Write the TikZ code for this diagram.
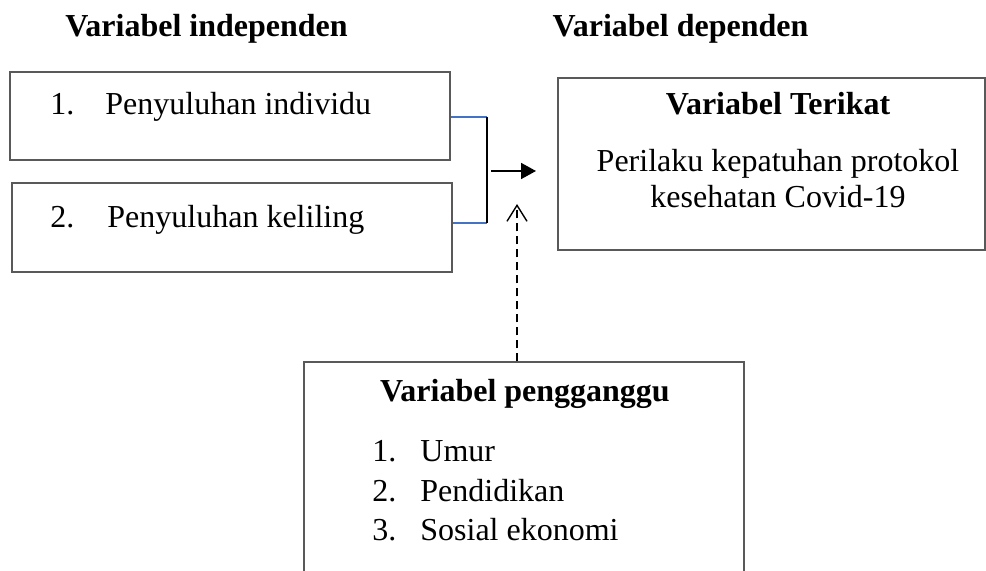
\documentclass[tikz,border=0pt]{standalone}
\usepackage{fontspec}
\setmainfont{Liberation Serif}
\usetikzlibrary{arrows.meta}
\definecolor{joinblue}{RGB}{68,114,196}

\begin{document}
\begin{tikzpicture}
  [x=0.5pt,y=-0.5pt,
   every node/.style={inner sep=0pt,font=\fontsize{16}{19.75}\selectfont},
   box/.style={draw=black!65,line width=0.7pt,rectangle},
   lbl/.style={anchor=base west},
   txt/.style={anchor=base},
   head/.style={anchor=base,font=\fontsize{16}{19.75}\selectfont\bfseries}]
  \useasboundingbox (0,0) rectangle (986,571);

  % headings
  \node[head] (hi) at (206.5,37) {Variabel independen};
  \node[head] (hd) at (680.5,37) {Variabel dependen};

  % boxes
  \node[box,minimum width=220pt,minimum height=44pt] (b1) at (230,116) {};
  \node[box,minimum width=220pt,minimum height=44.5pt] (b2) at (232,227.5) {};
  \node[box,minimum width=213.5pt,minimum height=86pt] (br) at (771.5,164) {};
  \node[box,minimum width=220pt,minimum height=129pt] (bx) at (524,491) {};

  % texts
  \node[lbl] (n1) at (50,115) {1.};
  \node[lbl] (t1) at (105,115) {Penyuluhan individu};
  \node[lbl] (n2) at (50,228) {2.};
  \node[lbl] (t2) at (107,228) {Penyuluhan keliling};

  \node[head] (ht) at (778,115) {Variabel Terikat};
  \node[txt] (d1) at (778,172) {Perilaku kepatuhan protokol};
  \node[txt] (d2) at (778,208) {kesehatan Covid-19};

  \node[head] (hp) at (525,402) {Variabel pengganggu};
  \node[lbl] (m1) at (372,462) {1.};
  \node[lbl] (u1) at (420,462) {Umur};
  \node[lbl] (m2) at (372,502) {2.};
  \node[lbl] (u2) at (420,502) {Pendidikan};
  \node[lbl] (m3) at (372,541) {3.};
  \node[lbl] (u3) at (420,541) {Sosial ekonomi};

  % connectors
  \coordinate (j1) at (487,117);
  \coordinate (j2) at (487,223);
  \coordinate (a1) at (491,171);
  \coordinate (a2) at (536,171);
  \coordinate (up) at (517,204);
  \path[draw,joinblue,line width=0.75pt]
        (b1.east |- j1) edge (j1)
        (b2.east |- j2) edge (j2);
  \draw[line width=0.9pt] (j1) -- (j2);
  \draw[-{Triangle[length=7.5pt,width=8pt]},line width=0.9pt] (a1) -- (a2);
  \draw[dash pattern=on 4pt off 2.5pt,-{Straight Barb[length=8pt,width=10pt]},line width=0.7pt]
        (bx.north -| up) -- (up);

\end{tikzpicture}
\end{document}
